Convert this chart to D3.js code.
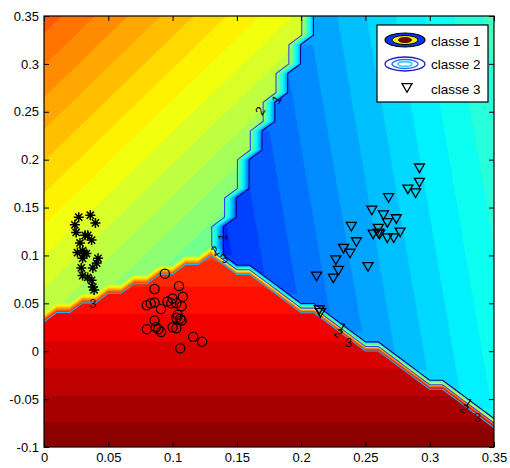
<!DOCTYPE html>
<html>
<head>
<meta charset="utf-8">
<script src="https://cdn.jsdelivr.net/npm/d3@7"></script>
<style>
body { margin: 0; background: #fff; }
text { font-family: "Liberation Sans", Arial, sans-serif; }
</style>
</head>
<body>
<div id="chart-area"></div>
<script>
// ---- data ----
var xTicks = [0, 0.05, 0.1, 0.15, 0.2, 0.25, 0.3, 0.35];
var yTicks = [-0.1, -0.05, 0, 0.05, 0.1, 0.15, 0.2, 0.25, 0.3, 0.35];

// grid of the decision map (start, step, count)
var gridX = [0, 0.01, 36];
var gridY = [-0.1, 0.01, 46];

// decision boundaries: junction and where each boundary meets the frame
var junction = [0.13, 0.105];
var edge12 = [0, 0.035];
var edge23 = [0.35, -0.071];
var edge13 = [0.2065, 0.35];

// level of the surface in each zone: a + bx*x + by*y
var zone1Coef = [0.526, -0.975, 0.75];
var zone2Coef = [0.909, 0, -0.88];
var zone3Coef = [0.0, 1.1, 0.14];
var fillLevels = d3.range(0, 1.0001, 0.025);

// class label map for the contour lines
var zoneLabel = [2.05, 3.05, 0.95];
var lineLevels = [1, 2, 3];
var lineColors = ["#00008c", "#2846ff", "#1eb4f0"];

// points (classe 1: *, classe 2: o, classe 3: v)
var starX = [0.036, 0.040, 0.027, 0.024, 0.025, 0.032, 0.034, 0.037, 0.028, 0.026, 0.030, 0.031, 0.033, 0.042, 0.041, 0.038, 0.029, 0.030, 0.034, 0.037, 0.038, 0.030, 0.039];
var starY = [0.142, 0.134, 0.140, 0.132, 0.124, 0.121, 0.121, 0.116, 0.113, 0.103, 0.105, 0.102, 0.102, 0.097, 0.092, 0.087, 0.087, 0.079, 0.077, 0.074, 0.067, 0.097, 0.064];
var circX = [0.094, 0.105, 0.086, 0.080, 0.083, 0.086, 0.091, 0.096, 0.100, 0.099, 0.108, 0.103, 0.107, 0.104, 0.106, 0.103, 0.107, 0.086, 0.080, 0.087, 0.089, 0.091, 0.100, 0.103, 0.116, 0.123, 0.106];
var circY = [0.081, 0.068, 0.065, 0.048, 0.050, 0.051, 0.044, 0.052, 0.055, 0.050, 0.057, 0.050, 0.047, 0.038, 0.034, 0.035, 0.032, 0.032, 0.023, 0.025, 0.023, 0.020, 0.025, 0.024, 0.015, 0.010, 0.003];
var triX = [0.292, 0.292, 0.283, 0.289, 0.268, 0.255, 0.264, 0.274, 0.267, 0.260, 0.277, 0.256, 0.260, 0.261, 0.267, 0.272, 0.239, 0.243, 0.233, 0.238, 0.227, 0.229, 0.225, 0.252, 0.212, 0.214, 0.215];
var triY = [0.191, 0.176, 0.169, 0.165, 0.160, 0.147, 0.142, 0.138, 0.134, 0.128, 0.124, 0.122, 0.123, 0.122, 0.118, 0.118, 0.130, 0.114, 0.107, 0.102, 0.095, 0.084, 0.076, 0.088, 0.078, 0.043, 0.040];

// contour labels
var labelText = ["1", "2", "1", "2", "3", "3", "1", "2", "3", "1", "2", "3"];
var labelX = [0.181, 0.168, 0.139, 0.133, 0.140, 0.038, 0.232, 0.229, 0.237, 0.330, 0.327, 0.337];
var labelY = [0.263, 0.251, 0.119, 0.105, 0.097, 0.050, 0.025, 0.019, 0.009, -0.054, -0.060, -0.069];
var labelAngle = [-60, -60, -80, -30, -20, 0, 35, 40, 0, 35, 40, 0];

var legendText = ["classe 1", "classe 2", "classe 3"];

// ---- svg ----
var width = 510, height = 468;
var svg = d3.select("#chart-area").append("svg")
    .attr("width", width)
    .attr("height", height);

var x = d3.scaleLinear().domain([0, 0.35]).range([44, 494]);
var y = d3.scaleLinear().domain([-0.1, 0.35]).range([447, 16]);

svg.append("clipPath").attr("id", "plotclip")
  .append("rect")
    .attr("x", x(0)).attr("y", y(0.35))
    .attr("width", x(0.35) - x(0)).attr("height", y(-0.1) - y(0.35));

function jet(v) {
    var r = Math.max(0, Math.min(1, 1.5 - Math.abs(4 * v - 3)));
    var g = Math.max(0, Math.min(1, 1.5 - Math.abs(4 * v - 2)));
    var b = Math.max(0, Math.min(1, 1.5 - Math.abs(4 * v - 1)));
    return d3.rgb(r * 255, g * 255, b * 255) + "";
}

// which zone a grid point falls in
function zoneOf(px, py) {
    var y12 = edge12[1] + (junction[1] - edge12[1]) / (junction[0] - edge12[0]) * (px - edge12[0]);
    var y23 = junction[1] + (edge23[1] - junction[1]) / (edge23[0] - junction[0]) * (px - junction[0]);
    var x13 = junction[0] + (edge13[0] - junction[0]) / (edge13[1] - junction[1]) * (py - junction[1]);
    if (py < Math.min(y12, y23)) return 1;
    if (px > x13) return 2;
    return 0;
}

var coefs = [zone1Coef, zone2Coef, zone3Coef];
var nx = gridX[2], ny = gridY[2];
var zValues = [], lValues = [];
for (var j = 0; j < ny; j++) {
    for (var i = 0; i < nx; i++) {
        var px = +(gridX[0] + i * gridX[1]).toFixed(4);
        var py = +(gridY[0] + j * gridY[1]).toFixed(4);
        var k = zoneOf(px, py);
        var c = coefs[k];
        zValues.push(c[0] + c[1] * px + c[2] * py);
        lValues.push(zoneLabel[k]);
    }
}

var gridPath = d3.geoPath(d3.geoTransform({
    point: function(cx, cy) {
        this.stream.point(x(gridX[0] + (cx - 0.5) * gridX[1]), y(gridY[0] + (cy - 0.5) * gridY[1]));
    }
}));

var plot = svg.append("g").attr("clip-path", "url(#plotclip)");

var step = fillLevels[1] - fillLevels[0];
var fills = d3.contours().size([nx, ny]).thresholds(fillLevels)(zValues);
plot.append("g").selectAll("path")
    .data(fills)
    .enter().append("path")
    .attr("d", gridPath)
    .attr("fill", function(d) { return jet(d.value + step / 2); })
    .attr("stroke", function(d) { return jet(d.value + step / 2); })
    .attr("stroke-width", 0.3);

var lines = d3.contours().size([nx, ny]).thresholds(lineLevels)(lValues);
plot.append("g").selectAll("path")
    .data(lines)
    .enter().append("path")
    .attr("d", gridPath)
    .attr("fill", "none")
    .attr("stroke", function(d, i) { return lineColors[i]; })
    .attr("stroke-width", 1.1);

// contour labels
plot.append("g").selectAll("text")
    .data(labelText)
    .enter().append("text")
    .attr("transform", function(d, i) {
        return "translate(" + x(labelX[i]) + "," + y(labelY[i]) + ") rotate(" + labelAngle[i] + ")";
    })
    .attr("text-anchor", "middle")
    .attr("dy", "0.35em")
    .attr("font-size", "13px")
    .attr("fill", "#111")
    .text(function(d) { return d; });

// points
plot.append("g").selectAll("path")
    .data(starX)
    .enter().append("path")
    .attr("transform", function(d, i) { return "translate(" + x(d) + "," + y(starY[i]) + ")"; })
    .attr("d", "M-5,0H5M0,-5V5M-3.6,-3.6L3.6,3.6M-3.6,3.6L3.6,-3.6")
    .attr("stroke", "#000")
    .attr("stroke-width", 1.5)
    .attr("fill", "none");

plot.append("g").selectAll("circle")
    .data(circX)
    .enter().append("circle")
    .attr("cx", function(d) { return x(d); })
    .attr("cy", function(d, i) { return y(circY[i]); })
    .attr("r", 4.6)
    .attr("fill", "none")
    .attr("stroke", "#000")
    .attr("stroke-width", 1.2);

plot.append("g").selectAll("path")
    .data(triX)
    .enter().append("path")
    .attr("transform", function(d, i) { return "translate(" + x(d) + "," + y(triY[i]) + ")"; })
    .attr("d", "M-5,-4.3L5,-4.3L0,4.3Z")
    .attr("fill", "none")
    .attr("stroke", "#000")
    .attr("stroke-width", 1.3);

// ---- axes ----
var fmt = function(d) { return String(+d.toFixed(2)); };

function styleAxis(sel) {
    sel.select(".domain").remove();
    sel.selectAll("text").attr("font-size", "13px").attr("fill", "#000")
        .attr("font-family", "Liberation Sans, Arial, sans-serif");
    sel.selectAll("line").attr("stroke", "#000");
}

svg.append("g")
    .attr("transform", "translate(0," + y(-0.1) + ")")
    .call(d3.axisBottom(x).tickValues(xTicks).tickFormat(fmt).tickSize(-5).tickPadding(6))
    .call(styleAxis);

svg.append("g")
    .attr("transform", "translate(" + x(0) + ",0)")
    .call(d3.axisLeft(y).tickValues(yTicks).tickFormat(fmt).tickSize(-5).tickPadding(5))
    .call(styleAxis);

svg.append("g")
    .attr("transform", "translate(0," + y(0.35) + ")")
    .call(d3.axisTop(x).tickValues(xTicks).tickFormat("").tickSize(-5))
    .call(styleAxis);

svg.append("g")
    .attr("transform", "translate(" + x(0.35) + ",0)")
    .call(d3.axisRight(y).tickValues(yTicks).tickFormat("").tickSize(-5))
    .call(styleAxis);

svg.append("rect")
    .attr("x", x(0)).attr("y", y(0.35))
    .attr("width", x(0.35) - x(0)).attr("height", y(-0.1) - y(0.35))
    .attr("fill", "none")
    .attr("stroke", "#000")
    .attr("stroke-width", 1.2);

// ---- legend ----
var legend = svg.append("g").attr("transform", "translate(377,25)");
legend.append("rect")
    .attr("width", 111).attr("height", 77)
    .attr("fill", "#fff")
    .attr("stroke", "#000")
    .attr("stroke-width", 1.2);

// classe 1 icon (filled contours)
var ic1 = legend.append("g").attr("transform", "translate(28,15)");
ic1.append("ellipse").attr("rx", 20).attr("ry", 7).attr("fill", "#0a32ff").attr("stroke", "#000").attr("stroke-width", 1.2);
ic1.append("ellipse").attr("rx", 13).attr("ry", 4.5).attr("fill", "#f0f000").attr("stroke", "#000").attr("stroke-width", 1);
ic1.append("ellipse").attr("rx", 6.5).attr("ry", 2.5).attr("fill", "#8c0000").attr("stroke", "#000").attr("stroke-width", 0.8);

// classe 2 icon (contour lines)
var ic2 = legend.append("g").attr("transform", "translate(28,39)");
ic2.append("ellipse").attr("rx", 20).attr("ry", 7).attr("fill", "none").attr("stroke", "#1e1eb4").attr("stroke-width", 1.3);
ic2.append("ellipse").attr("rx", 13).attr("ry", 4.5).attr("fill", "none").attr("stroke", "#2d6eff").attr("stroke-width", 1.3);
ic2.append("ellipse").attr("rx", 7).attr("ry", 2.3).attr("fill", "none").attr("stroke", "#14d2ff").attr("stroke-width", 1.5);

// classe 3 icon (marker)
legend.append("path")
    .attr("transform", "translate(30,63)")
    .attr("d", "M-5,-4.3L5,-4.3L0,4.3Z")
    .attr("fill", "none")
    .attr("stroke", "#000")
    .attr("stroke-width", 1.3);

legend.selectAll(".ltext")
    .data(legendText)
    .enter().append("text")
    .attr("class", "ltext")
    .attr("x", 54)
    .attr("y", function(d, i) { return [16, 39, 64][i]; })
    .attr("dy", "0.35em")
    .attr("font-size", "13.5px")
    .attr("fill", "#000")
    .text(function(d) { return d; });
</script>
</body>
</html>
